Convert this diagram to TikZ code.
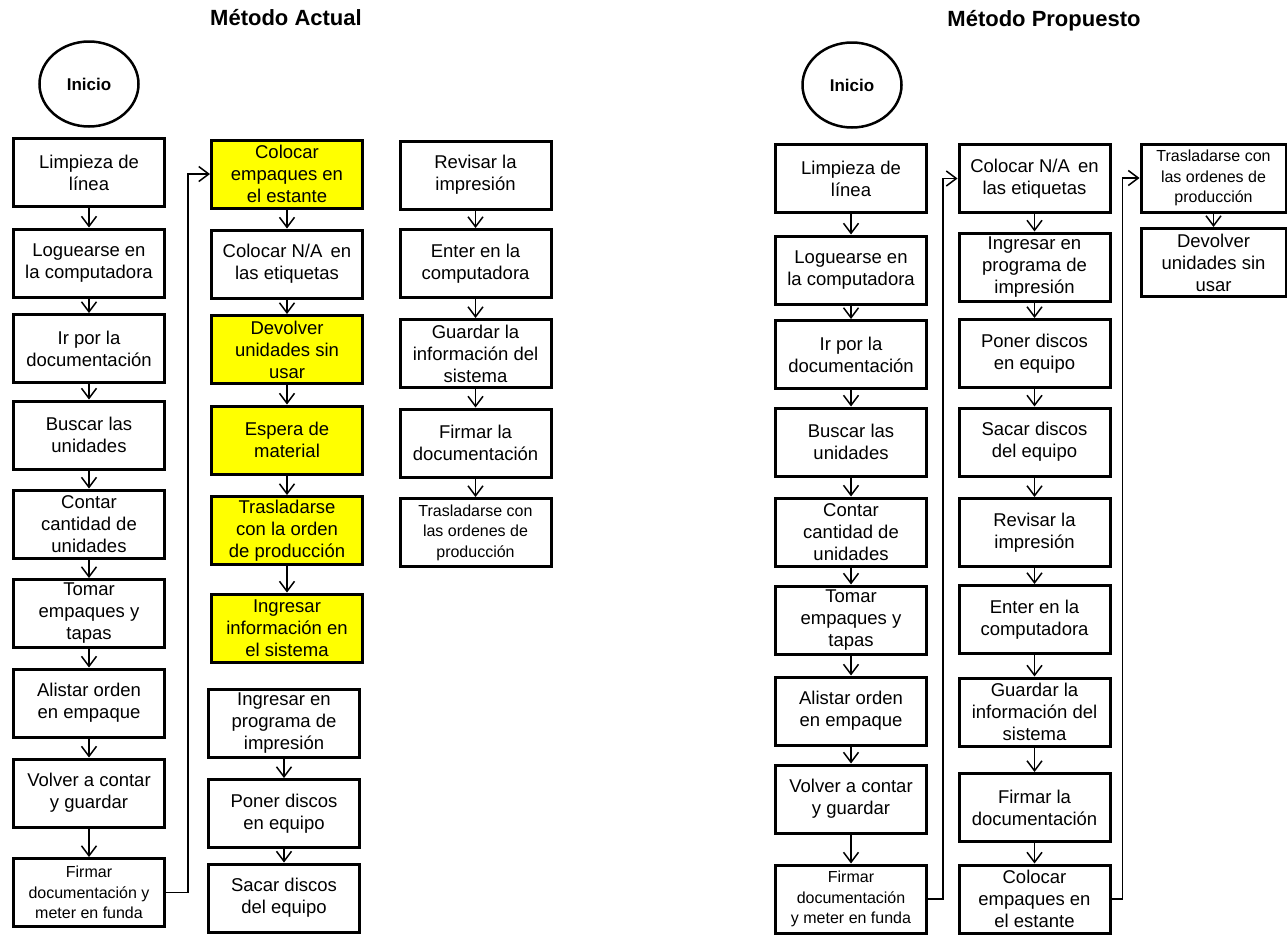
\documentclass[tikz,border=0pt]{standalone}
\usepackage{fontspec}
\setmainfont{Liberation Sans}
\usetikzlibrary{arrows.meta,shapes.geometric}
\definecolor{hlyellow}{HTML}{FFFF00}
\begin{document}
\begin{tikzpicture}[x=1pt,y=-1pt,
  box/.style={draw, line width=3pt, align=center, minimum width=151pt,
    minimum height=68pt, inner sep=1pt, fill=white,
    font=\fontsize{18.5}{22}\selectfont},
  hl/.style={fill=hlyellow},
  small/.style={font=\fontsize{16}{20.5}\selectfont},
  start/.style={draw, ellipse, line width=2.5pt, minimum width=99pt,
    minimum height=85pt, inner sep=0pt, font=\bfseries\fontsize{17}{20}\selectfont},
  title/.style={font=\bfseries\fontsize{22}{26}\selectfont},
  arr/.style={line width=1.5pt, -{Straight Barb[length=10pt,width=15pt]}}
]
\useasboundingbox (0,0) rectangle (1287,935);

% ---------------- Método Actual ----------------
\node[title] (tA) at (286,18) {Método Actual};
\node[start] (a0) at (89,84) {Inicio};

\node[box] (a1) at (89,172.5) {Limpieza de\\línea};
\node[box] (a2) at (89,263) {Loguearse en\\la computadora};
\node[box] (a3) at (89,348.5) {Ir por la\\documentación};
\node[box] (a4) at (89,435) {Buscar las\\unidades};
\node[box] (a5) at (89,524) {Contar\\cantidad de\\unidades};
\node[box] (a6) at (89,613.5) {Tomar\\empaques y\\tapas};
\node[box] (a7) at (89,703) {Alistar orden\\en empaque};
\node[box] (a8) at (89,793) {Volver a contar\\y guardar};
\node[box,small] (a9) at (89,892.5) {Firmar\\documentación y\\meter en funda};

\node[box,hl] (b1) at (287,174) {Colocar\\empaques en\\el estante};
\node[box] (b2) at (287,264) {Colocar N/A\, en\\las etiquetas};
\node[box,hl] (b3) at (287,349.5) {Devolver\\unidades sin\\usar};
\node[box,hl] (b4) at (287,440) {Espera de\\material};
\node[box,hl] (b5) at (287,530.5) {Trasladarse\\con la orden\\de producción};
\node[box,hl] (b6) at (287,628) {Ingresar\\información en\\el sistema};
\node[box] (b7) at (284,723) {Ingresar en\\programa de\\impresión};
\node[box] (b8) at (284,813.5) {Poner discos\\en equipo};
\node[box] (b9) at (284,898) {Sacar discos\\del equipo};

\node[box] (c1) at (475.5,175) {Revisar la\\impresión};
\node[box] (c2) at (475.5,263.5) {Enter en la\\computadora};
\node[box] (c3) at (475.5,353.5) {Guardar la\\información del\\sistema};
\node[box] (c4) at (475.5,443) {Firmar la\\documentación};
\node[box,small] (c5) at (475.5,532.5) {Trasladarse con\\las ordenes de\\producción};

\foreach \p/\q in {a1/a2,a2/a3,a3/a4,a4/a5,a5/a6,a6/a7,a7/a8,a8/a9,
                   b1/b2,b2/b3,b3/b4,b4/b5,b5/b6,b7/b8,b8/b9,
                   c1/c2,c2/c3,c3/c4,c4/c5}
  \draw[arr] (\p.south) -- (\q.north);
\draw[arr] (a9.east) -- ++(22,0) |- (b1.west);

% ---------------- Método Propuesto ----------------
\node[title] (tP) at (1044,21) {Método Propuesto};
\node[start] (p0) at (852,85) {Inicio};

\node[box] (d1) at (851,178.5) {Limpieza de\\línea};
\node[box] (d2) at (851,270) {Loguearse en\\la computadora};
\node[box] (d3) at (851,354.5) {Ir por la\\documentación};
\node[box] (d4) at (851,442) {Buscar las\\unidades};
\node[box] (d5) at (851,532) {Contar\\cantidad de\\unidades};
\node[box] (d6) at (851,620) {Tomar\\empaques y\\tapas};
\node[box] (d7) at (851,711) {Alistar orden\\en empaque};
\node[box] (d8) at (851,799) {Volver a contar\\y guardar};
\node[box,small] (d9) at (851,899) {Firmar\\documentación\\y meter en funda};

\node[box] (e1) at (1034.5,178.5) {Colocar N/A\, en\\las etiquetas};
\node[box] (e2) at (1034.5,267) {Ingresar en\\programa de\\impresión};
\node[box] (e3) at (1034.5,353.5) {Poner discos\\en equipo};
\node[box] (e4) at (1034.5,442) {Sacar discos\\del equipo};
\node[box] (e5) at (1034.5,532.5) {Revisar la\\impresión};
\node[box] (e6) at (1034.5,619.5) {Enter en la\\computadora};
\node[box] (e7) at (1034.5,712) {Guardar la\\información del\\sistema};
\node[box] (e8) at (1034.5,807.5) {Firmar la\\documentación};
\node[box] (e9) at (1034.5,899) {Colocar\\empaques en\\el estante};

\node[box,small,minimum width=145pt] (f1) at (1213.5,178) {Trasladarse con\\las ordenes de\\producción};
\node[box,minimum width=145pt] (f2) at (1213.5,262.5) {Devolver\\unidades sin\\usar};

\foreach \p/\q in {d1/d2,d2/d3,d3/d4,d4/d5,d5/d6,d6/d7,d7/d8,d8/d9,
                   e1/e2,e2/e3,e3/e4,e4/e5,e5/e6,e6/e7,e7/e8,e8/e9,
                   f1/f2}
  \draw[arr] (\p.south) -- (\q.north);
\draw[arr] (d9.east) -- ++(15,0) |- (e1.west);
\draw[arr] (e9.east) -- ++(11,0) |- (f1.west);
\end{tikzpicture}
\end{document}
